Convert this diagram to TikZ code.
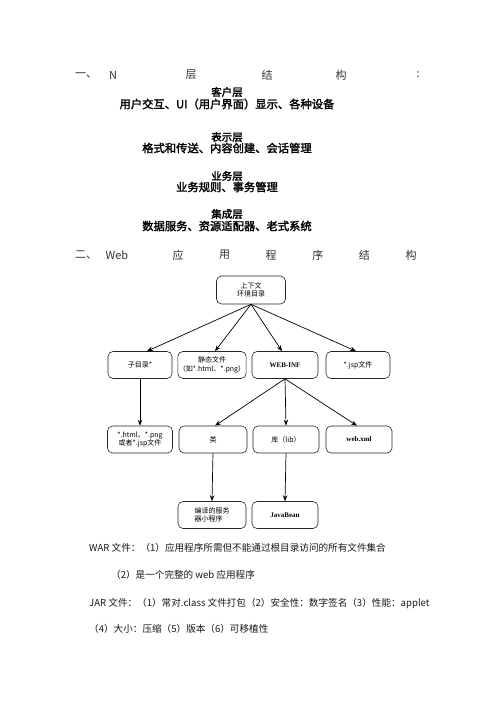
\documentclass[tikz,border=0pt]{standalone}
\usepackage{fontspec}
\setmainfont{Liberation Serif}
\newfontfamily\cjk{Noto Sans CJK SC}
\newfontfamily\cjkb[FakeBold=2]{Noto Sans CJK SC}
\usetikzlibrary{arrows.meta}
\tikzset{
  dbox/.style={draw=black!85, line width=0.6pt, rounded corners=5pt, minimum height=27pt, inner sep=1pt, align=center, font=\cjk\fontsize{7}{8.5}\selectfont},
  arr/.style={line width=0.7pt, -{Stealth[length=6pt,width=4.5pt]}},
  headtxt/.style={font=\cjk\fontsize{11}{13}\selectfont, text=black!80, inner sep=0pt},
  tierh/.style={font=\cjkb\fontsize{10.5}{12}\selectfont, inner sep=0pt},
  tierl/.style={font=\cjkb\fontsize{11.3}{13}\selectfont, inner sep=0pt},
  body/.style={font=\cjk\fontsize{9.6}{11}\selectfont, anchor=west, inner sep=0pt, text=black!90}
}
\begin{document}
\begin{tikzpicture}[x=1pt,y=-1pt]
\fill[white] (0,0) rectangle (496,702);
\useasboundingbox (0,0) rectangle (496,702);
% heading 1
\node[headtxt, anchor=west] (h1a) at (75,75) {一、};
\node[headtxt] (h1b) at (113,75) {N};
\node[headtxt] (h1c) at (191,75) {层};
\node[headtxt] (h1d) at (267,75) {结};
\node[headtxt] (h1e) at (341,75) {构};
\node[headtxt] (h1f) at (418,75) {:};
% tiers
\node[tierh] (t1) at (227,92) {客户层};
\node[tierl] (t1l) at (227,104) {用户交互、UI（用户界面）显示、各种设备};
\node[tierh] (t2) at (227,137) {表示层};
\node[tierl] (t2l) at (227,148) {格式和传送、内容创建、会话管理};
\node[tierh] (t3) at (227,176) {业务层};
\node[tierl] (t3l) at (227,187) {业务规则、事务管理};
\node[tierh] (t4) at (227,214) {集成层};
\node[tierl] (t4l) at (227,226) {数据服务、资源适配器、老式系统};
% heading 2
\node[headtxt, anchor=west] (h2a) at (75,255) {二、};
\node[headtxt] (h2b) at (117,255) {Web};
\node[headtxt] (h2c) at (178,255) {应};
\node[headtxt] (h2d) at (224.6,255) {用};
\node[headtxt] (h2e) at (271.2,255) {程};
\node[headtxt] (h2f) at (317.8,255) {序};
\node[headtxt] (h2g) at (364.4,255) {结};
\node[headtxt] (h2h) at (411,255) {构};
% diagram
\node[dbox, minimum width=69pt, minimum height=28pt] (ctx) at (251,290) {上下文\\环境目录};
\node[dbox, minimum width=64pt] (sub) at (140,365) {子目录*};
\node[dbox, minimum width=67pt] (stat) at (212,365) {静态文件\\（如*.html、*.png）};
\node[dbox, minimum width=66pt] (webinf) at (285,365) {\rmfamily\bfseries WEB-INF};
\node[dbox, minimum width=64pt] (jsp) at (358,365) {*.jsp文件};
\node[dbox, minimum width=65pt] (files) at (140,439.5) {*.html、*.png\\或者*.jsp文件};
\node[dbox, minimum width=68pt] (cls) at (213,439.5) {类};
\node[dbox, minimum width=66pt] (lib) at (286,439.5) {库（lib）};
\node[dbox, minimum width=66pt] (xml) at (359,439.5) {\rmfamily\bfseries web.xml};
\node[dbox, minimum width=68pt, align=left] (srv) at (212,515) {编译的服务\\器小程序};
\node[dbox, minimum width=66pt] (jb) at (285,515) {\rmfamily\bfseries JavaBean};
\draw[arr] (ctx.south) -- ([xshift=7pt]sub.north);
\draw[arr] (ctx.south) -- ([xshift=3pt]stat.north);
\draw[arr] (ctx.south) -- ([xshift=-3pt]webinf.north);
\draw[arr] (ctx.south) -- ([xshift=-2pt]jsp.north);
\draw[arr] (sub.south) -- (files.north);
\draw[arr] (webinf.south) -- ([xshift=2pt]cls.north);
\draw[arr] (webinf.south) -- (lib.north);
\draw[arr] (webinf.south) -- ([xshift=-2pt]xml.north);
\draw[arr] (cls.south) -- (srv.north);
\draw[arr] (lib.south) -- (jb.north);
% bottom text
\node[body] (w1) at (89,548) {WAR 文件：（1）应用程序所需但不能通过根目录访问的所有文件集合};
\node[body] (w2) at (111,575) {（2）是一个完整的 web 应用程序};
\node[body] (j1) at (89,603) {JAR 文件：（1）常对.class 文件打包（2）安全性：数字签名（3）性能：applet};
\node[body] (j2) at (89,629) {（4）大小：压缩（5）版本（6）可移植性};
\end{tikzpicture}
\end{document}
